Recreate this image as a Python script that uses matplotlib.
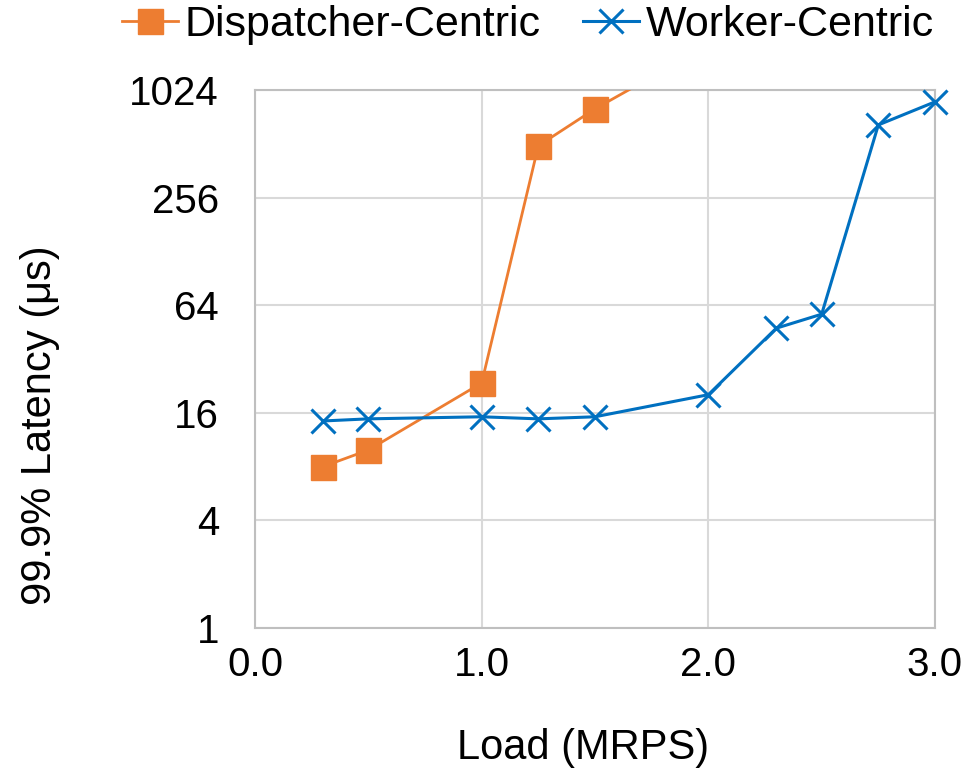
import matplotlib
matplotlib.use("Agg")
import matplotlib.pyplot as plt
from matplotlib.ticker import FixedLocator, NullLocator

plt.rcParams['font.family'] = ['Liberation Sans', 'DejaVu Sans']

disp_x = [0.3, 0.5, 1.0, 1.25, 1.5, 1.75]
disp_y = [8.0, 9.9, 23.5, 499, 803, 1210]
work_x = [0.3, 0.5, 1.0, 1.25, 1.5, 2.0, 2.3, 2.5, 2.75, 3.0]
work_y = [14.4, 14.8, 15.2, 14.8, 15.2, 20.2, 47.6, 57, 653, 879]
y_ticks = [1, 4, 16, 64, 256, 1024]
x_ticks = [0.0, 1.0, 2.0, 3.0]

W, H = 969, 775
fig = plt.figure(figsize=(W/100, H/100), dpi=100)
ax = fig.add_axes([255/W, 1-628/H, (935-255)/W, (628-90)/H])

orange = '#ED7D31'
blue = '#0070C0'
visible = [i for i, v in enumerate(disp_y) if v <= 1024]
ax.plot(disp_x, disp_y, color=orange, lw=2, marker='s', ms=18, mec=orange,
        mfc=orange, markevery=visible, label='Dispatcher-Centric',
        clip_on=True, zorder=3)
ax.plot(work_x, work_y, color=blue, lw=2.2, marker='x', ms=17, mew=2.2,
        label='Worker-Centric', clip_on=False, zorder=4)

ax.set_yscale('log', base=2)
ax.set_ylim(1, 1024)
ax.set_xlim(0, 3.0)
ax.yaxis.set_major_locator(FixedLocator(y_ticks))
ax.yaxis.set_minor_locator(NullLocator())
ax.set_yticklabels([str(v) for v in y_ticks])
ax.set_xticks(x_ticks)
ax.set_xticklabels([f'{v:.1f}' for v in x_ticks])
ax.tick_params(axis='both', length=0, labelsize=29)
ax.tick_params(axis='y', pad=26)
ax.tick_params(axis='x', pad=13)
ax.grid(True, color='#D9D9D9', lw=1.5)
ax.set_axisbelow(True)
for s in ax.spines.values():
    s.set_color('#BFBFBF')
    s.set_linewidth(1.5)

fig.text(583/W, 1-748/H, 'Load (MRPS)', fontsize=30, ha='center', va='center')
fig.text(40/W, 1-425/H, '99.9% Latency (μs)', fontsize=30, ha='center',
         va='center', rotation=90)

fig.legend(loc='center', bbox_to_anchor=(528/W, 1-25/H), ncol=2,
           frameon=False, fontsize=31, handlelength=1.3, handletextpad=0.15,
           columnspacing=1.0, borderaxespad=0, borderpad=0)

fig.savefig('out.png', dpi=100)
